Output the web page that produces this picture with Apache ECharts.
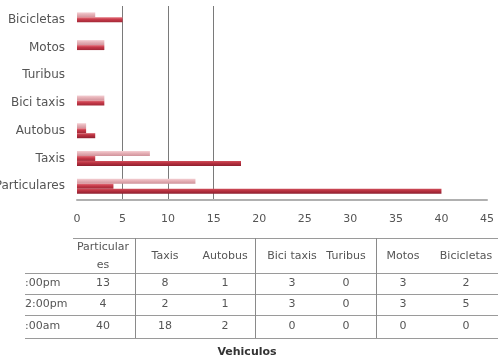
<!DOCTYPE html>
<html>
<head>
<meta charset="utf-8">
<script src="https://cdn.jsdelivr.net/npm/echarts@6/dist/echarts.min.js"></script>
<style>
html,body{margin:0;padding:0;background:#fff;}
#c{width:498px;height:364px;}
</style>
</head>
<body>
<div id="c"></div>
<script>
// Categories (table order, left to right)
var categories = ['Particulares', 'Taxis', 'Autobus', 'Bici taxis', 'Turibus', 'Motos', 'Bicicletas'];
var headerLabels = ['Particular\nes', 'Taxis', 'Autobus', 'Bici taxis', 'Turibus', 'Motos', 'Bicicletas'];
// Series (table row order)
var seriesNames = [':00pm', '2:00pm', ':00am'];
var valuesPm5 = [13, 8, 1, 3, 0, 3, 2];
var valuesPm2 = [4, 2, 1, 3, 0, 3, 5];
var valuesAm = [40, 18, 2, 0, 0, 0, 0];
var tableRows = [valuesPm5, valuesPm2, valuesAm];
// X axis ticks
var xMin = 0, xMax = 45, xStep = 5;
var axisTitle = 'Vehiculos';

var FONT = 'DejaVu Sans';
var chart = echarts.init(document.getElementById('c'), null, {renderer: 'canvas'});

function grad(c1, c2, c3) {
  return new echarts.graphic.LinearGradient(0, 0, 0, 1, [
    {offset: 0, color: c1}, {offset: 0.45, color: c2}, {offset: 1, color: c3}
  ]);
}

// grid-line colours: only 5, 10, 15 visible
var splitColors = [];
for (var v = xMin; v <= xMax; v += xStep) {
  splitColors.push((v >= 5 && v <= 15) ? '#7a7a7a' : 'rgba(0,0,0,0)');
}

// table graphics
var colCenters = [103, 165, 225, 292, 346, 403, 466];
var rowCenters = [283, 304, 326];
var g = [];
function hline(x1, x2, y, c) {
  g.push({type: 'line', shape: {x1: x1, y1: y + 0.5, x2: x2, y2: y + 0.5}, style: {stroke: c || '#9a9a9a', lineWidth: 1}, silent: true});
}
function vline(x, y1, y2) {
  g.push({type: 'line', shape: {x1: x + 0.5, y1: y1, x2: x + 0.5, y2: y2}, style: {stroke: '#8a8a8a', lineWidth: 1}, silent: true});
}
hline(73, 498, 238);
hline(25, 498, 273);
hline(25, 498, 294);
hline(25, 498, 315);
hline(25, 498, 338);
[135, 255, 376].forEach(function (x) { vline(x, 238, 338); });

headerLabels.forEach(function (h, i) {
  g.push({type: 'text', x: colCenters[i], y: 256, style: {text: h, font: '11px "' + FONT + '"', fill: '#555', align: 'center', verticalAlign: 'middle', lineHeight: 18}, silent: true});
});
seriesNames.forEach(function (n, r) {
  g.push({type: 'text', x: 25, y: rowCenters[r], style: {text: n, font: '11px "' + FONT + '"', fill: '#555', align: 'left', verticalAlign: 'middle'}, silent: true});
  tableRows[r].forEach(function (val, i) {
    g.push({type: 'text', x: colCenters[i], y: rowCenters[r], style: {text: String(val), font: '11px "' + FONT + '"', fill: '#555', align: 'center', verticalAlign: 'middle'}, silent: true});
  });
});
g.push({type: 'text', x: 247, y: 352, style: {text: axisTitle, font: 'bold 11px "' + FONT + '"', fill: '#333', align: 'center', verticalAlign: 'middle'}, silent: true});

var option = {
  animation: false,
  backgroundColor: '#fff',
  grid: {left: 77, right: 11, top: 6, bottom: 164, containLabel: false, outerBoundsMode: 'none'},
  xAxis: {
    type: 'value', min: xMin, max: xMax, interval: xStep,
    axisLine: {show: true, lineStyle: {color: '#b0b0b0', width: 2}},
    axisTick: {show: false},
    axisLabel: {color: '#555', fontSize: 11, fontFamily: FONT, margin: 14},
    splitLine: {show: true, lineStyle: {color: splitColors, width: 1}}
  },
  yAxis: {
    type: 'category', data: categories,
    axisLine: {show: false}, axisTick: {show: false},
    axisLabel: {color: '#555', fontSize: 12, fontFamily: FONT, margin: 12}
  },
  series: [
    {name: seriesNames[0], type: 'bar', data: valuesPm5, barWidth: 5, barGap: '0%', barCategoryGap: '40%',
     itemStyle: {color: grad('#f4d0d4', '#e6b0b6', '#d0949c')}},
    {name: seriesNames[1], type: 'bar', data: valuesPm2, barWidth: 5, barGap: '0%',
     itemStyle: {color: grad('#e2707a', '#c63848', '#a02836')}},
    {name: seriesNames[2], type: 'bar', data: valuesAm, barWidth: 5, barGap: '0%',
     itemStyle: {color: grad('#d0505c', '#b8303f', '#8e2030')}}
  ],
  graphic: g
};
chart.setOption(option);
</script>
</body>
</html>
